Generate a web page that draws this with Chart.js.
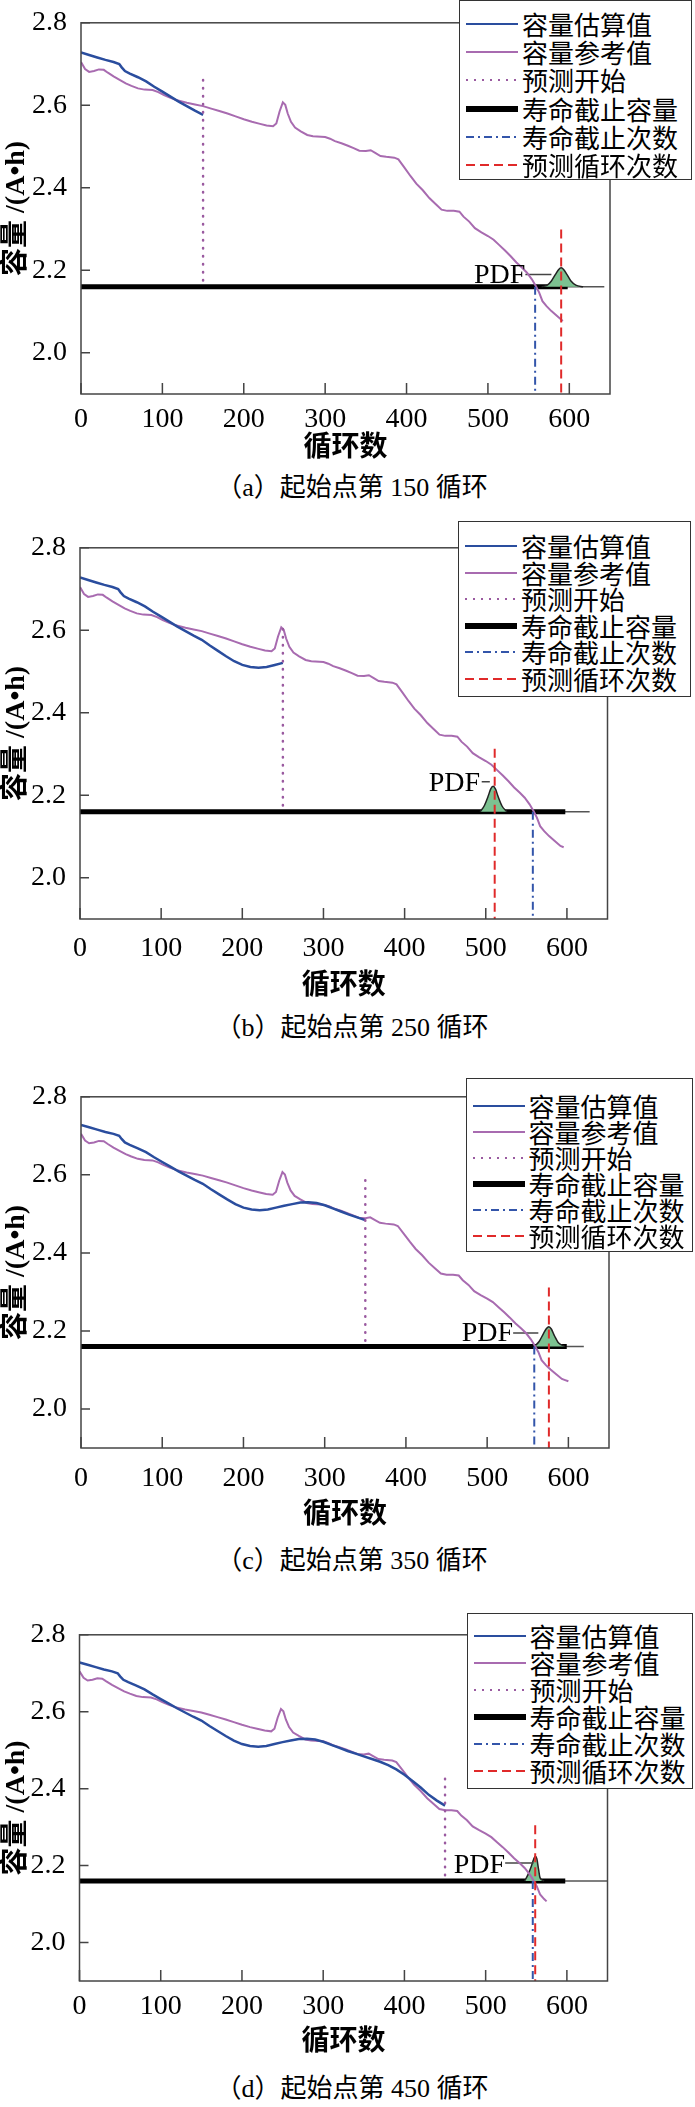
<!DOCTYPE html>
<html>
<head>
<meta charset="utf-8">
<script src="https://cdn.jsdelivr.net/npm/chart.js@4.4.1/dist/chart.umd.min.js"></script>
<style>
    html, body { margin: 0; padding: 0; background: #fff; }
    body { width: 695px; height: 2107px; position: relative; overflow: hidden; }
    canvas { position: absolute; left: 0; }
    .legend { position: absolute; background: #fff; border: 1.5px solid #333; box-sizing: border-box; }
    .row { position: absolute; left: 0; height: 28px; display: flex; align-items: center; white-space: nowrap;
           font-family: "Noto Sans CJK SC", sans-serif; font-size: 26px; line-height: 28px; color: #000; }
    .row svg { margin-left: 6px; margin-right: 4px; flex: none; }
    .cap { position: absolute; left: 0; width: 704px; text-align: center; color: #000;
           font-family: "Liberation Serif", "Noto Sans CJK SC", serif; font-size: 26px; line-height: 30px; }
</style>
</head>
<body>
<script>
// reference capacity (purple)
const refCycle = [0, 5, 10, 16, 22, 28, 33, 40, 48, 55, 62, 70, 78, 88, 95, 102, 110, 118, 130, 140,
    150, 160, 170, 180, 190, 200, 210, 220, 228, 236, 240, 244, 248, 251, 254, 258, 263, 270, 278, 285,
    295, 300, 306, 312, 320, 328, 335, 342, 350, 356, 362, 368, 375, 385, 390, 397, 405, 412, 420, 428,
    436, 443, 450, 458, 465, 470, 477, 484, 492, 500, 507, 514, 521, 528, 535, 542, 548, 554, 559, 563,
    567, 572, 575, 578, 585, 592, 596, 600];
const refCap = [2.705, 2.688, 2.681, 2.683, 2.687, 2.686, 2.679, 2.670, 2.661, 2.653, 2.647, 2.641, 2.638, 2.637, 2.632, 2.625, 2.618, 2.612, 2.606, 2.602,
    2.598, 2.592, 2.586, 2.580, 2.573, 2.566, 2.560, 2.555, 2.551, 2.549, 2.556, 2.585, 2.607, 2.601, 2.580, 2.560, 2.546, 2.537, 2.528, 2.525,
    2.524, 2.523, 2.519, 2.513, 2.508, 2.502, 2.496, 2.490, 2.489, 2.491, 2.484, 2.477, 2.475, 2.473, 2.469, 2.450, 2.428, 2.410, 2.394, 2.375,
    2.360, 2.347, 2.344, 2.344, 2.342, 2.330, 2.318, 2.302, 2.292, 2.283, 2.274, 2.261, 2.248, 2.234, 2.219, 2.206, 2.194, 2.178, 2.161, 2.146,
    2.125, 2.113, 2.107, 2.101, 2.089, 2.077, 2.074, 2.071];

// estimated capacity (blue)
const estCycle = [0, 10, 20, 30, 40, 47, 50, 54, 60, 70, 80, 90, 100, 110, 120, 130, 140, 150, 160, 170,
    180, 190, 200, 210, 220, 230, 240, 250, 260, 270, 280, 290, 300, 310, 320, 330, 340, 350, 360, 370,
    380, 390, 400, 410, 420, 430, 440, 450];
const estCap = [2.728, 2.722, 2.716, 2.710, 2.705, 2.700, 2.692, 2.683, 2.677, 2.668, 2.658, 2.645, 2.633, 2.621, 2.609, 2.598, 2.587, 2.577, 2.563, 2.550,
    2.537, 2.525, 2.516, 2.511, 2.509, 2.511, 2.516, 2.521, 2.525, 2.529, 2.530, 2.528, 2.522, 2.514, 2.506, 2.498, 2.491, 2.484, 2.477, 2.470,
    2.461, 2.450, 2.436, 2.420, 2.403, 2.384, 2.369, 2.356];

const xTicks = [0, 100, 200, 300, 400, 500, 600];
const yTicks = [2.0, 2.2, 2.4, 2.6, 2.8];

const eolCap = 2.16;      // 寿命截止容量
const eolCycle = 558;     // 寿命截止次数
const eolCapEnd = 598;
const startCycles = [150, 250, 350, 450];
const startLineTop = [2.676, 2.609, 2.588, 2.44];
const startLineBottom = 2.175;
const predCycles = [590, 511, 576, 561];
const predLineTop = [2.299, 2.313, 2.311, 2.305];
const refEnd = [592, 596, 600, 575];
const baseEnd = [643, 628, 619, 650];

const pdfX = [
    [566, 573, 578, 583, 587, 590, 593, 597, 602, 608, 617],
    [493, 498, 503, 506, 509, 512, 515, 520, 526],
    [558, 564, 569, 573, 576, 579, 583, 588, 596],
    [548, 552, 556, 559, 561, 563, 565, 567, 572]
];
const pdfY = [
    [2.160, 2.164, 2.174, 2.190, 2.202, 2.206, 2.202, 2.190, 2.174, 2.164, 2.160],
    [2.160, 2.174, 2.198, 2.215, 2.222, 2.215, 2.198, 2.174, 2.160],
    [2.160, 2.173, 2.192, 2.206, 2.211, 2.205, 2.187, 2.169, 2.160],
    [2.160, 2.176, 2.197, 2.216, 2.224, 2.218, 2.192, 2.168, 2.160]
];
const leaderX = [[546, 578], [495, 505], [532, 563], [524, 559]];
const leaderY = [2.19, 2.233, 2.195, 2.207];
const pdfLabelX = [546, 493, 532, 524];
const pdfLabelY = [2.187, 2.227, 2.194, 2.20];

const captions = ['（a）起始点第 150 循环', '（b）起始点第 250 循环', '（c）起始点第 350 循环', '（d）起始点第 450 循环'];
const legendLabels = ['容量估算值', '容量参考值', '预测开始', '寿命截止容量', '寿命截止次数', '预测循环次数'];

// colours / line styles
const cEst = '#2a4d9e', cRef = '#a86bb0', cStart = '#9a5aa0', cEolN = '#3355aa', cPred = '#e02a2a';
const legendStyles = [
    {c: cEst, w: 2, d: ''},
    {c: cRef, w: 2, d: ''},
    {c: cStart, w: 2, d: '2 6'},
    {c: '#000', w: 6, d: ''},
    {c: cEolN, w: 2, d: '8 4 2 4'},
    {c: cPred, w: 2, d: '9 5'}
];

// page layout of the four panels (plot box in page px)
const panels = [
    {L: 81, R: 610, T: 10, B: 394, tickOff: 18, titleOff: 55, capY: 488, lg: {x: 459, y: 0, w: 233, h: 180, r0: 23, dr: 28.2}},
    {L: 80, R: 607.5, T: 534.5, B: 918, tickOff: 22, titleOff: 68, capY: 1028, lg: {x: 458, y: 521, w: 233, h: 176, r0: 24, dr: 26.5}},
    {L: 81, R: 609, T: 1084, B: 1448, tickOff: 23, titleOff: 68, capY: 1561, lg: {x: 465.5, y: 1078, w: 227, h: 174, r0: 26.7, dr: 26}},
    {L: 79.5, R: 607.5, T: 1621.5, B: 1980.5, tickOff: 18, titleOff: 62, capY: 2089, lg: {x: 466.5, y: 1613, w: 226, h: 176, r0: 22, dr: 27}}
];

const pts = (xs, ys) => xs.map((x, i) => ({x: x, y: ys[i]}));

Chart.defaults.font.family = '"Liberation Serif", "Noto Sans CJK SC", serif';
Chart.defaults.color = '#000';

const tickSize = 28, titleSize = 28;

// box round the plot, inward ticks, PDF label
const frame = {
    id: 'frame',
    afterDraw(chart) {
        const {ctx, chartArea: a, scales: {x, y}} = chart;
        const i = chart.options.panelIndex;
        ctx.save();
        ctx.strokeStyle = '#444';
        ctx.lineWidth = 1.5;
        ctx.strokeRect(a.left, a.top, a.right - a.left, a.bottom - a.top);
        ctx.beginPath();
        x.ticks.forEach(t => {
            const px = x.getPixelForValue(t.value);
            ctx.moveTo(px, a.bottom);
            ctx.lineTo(px, a.bottom - 11);
        });
        y.ticks.forEach(t => {
            const py = y.getPixelForValue(t.value);
            ctx.moveTo(a.left, py);
            ctx.lineTo(a.left + 9, py);
        });
        ctx.stroke();
        ctx.fillStyle = '#000';
        ctx.font = '28px "Liberation Serif", serif';
        ctx.textAlign = 'right';
        ctx.textBaseline = 'middle';
        ctx.fillText('PDF', x.getPixelForValue(pdfLabelX[i]), y.getPixelForValue(pdfLabelY[i]));
        ctx.restore();
    }
};

function vline(xv, y0, y1, color, dash, width, order, cap) {
    return {
        data: [{x: xv, y: y0}, {x: xv, y: y1}], borderColor: color, borderWidth: width,
        borderDash: dash, borderCapStyle: cap || 'butt', order: order
    };
}

panels.forEach((p, i) => {
    const top = p.T - 10;
    const H = p.titleOff + 24;
    const cv = document.createElement('canvas');
    cv.width = 695;
    cv.height = Math.round(10 + (p.B - p.T) + H);
    cv.style.top = top + 'px';
    document.body.appendChild(cv);

    const refPts = pts(refCycle, refCap).filter(q => q.x <= refEnd[i]);
    const estPts = pts(estCycle, estCap).filter(q => q.x <= startCycles[i]);

    new Chart(cv, {
        type: 'scatter',
        data: {
            datasets: [
                {data: [{x: 0, y: eolCap}, {x: baseEnd[i], y: eolCap}], borderColor: '#555', borderWidth: 1.5, order: 10},
                {data: [{x: 0, y: eolCap}, {x: eolCapEnd, y: eolCap}], borderColor: '#000', borderWidth: 5, order: 9},
                {data: pts(pdfX[i], pdfY[i]), borderColor: '#222', borderWidth: 1.5, backgroundColor: '#7cc291',
                    fill: {value: eolCap}, cubicInterpolationMode: 'monotone', order: 8},
                {data: pts(leaderX[i], [leaderY[i], leaderY[i]]), borderColor: '#444', borderWidth: 1.5, order: 7},
                {data: refPts, borderColor: cRef, borderWidth: 2, order: 6},
                {data: estPts, borderColor: cEst, borderWidth: 2.5, order: 5},
                vline(startCycles[i], startLineBottom, startLineTop[i], cStart, [0.5, 7.5], 2.5, 3, 'round'),
                vline(eolCycle, eolCap, 1.9, cEolN, [8, 4, 2, 4], 2, 2),
                vline(predCycles[i], predLineTop[i], 1.9, cPred, [9, 5], 2, 1)
            ].map(d => Object.assign({showLine: true, pointRadius: 0, fill: false}, d))
        },
        options: {
            panelIndex: i,
            responsive: false,
            animation: false,
            events: [],
            layout: {padding: {top: 10, right: 695 - p.R, left: 0, bottom: 0}},
            plugins: {legend: {display: false}, tooltip: {enabled: false}},
            scales: {
                x: {
                    type: 'linear', min: 0, max: 650,
                    grid: {display: false}, border: {display: false},
                    afterBuildTicks: s => { s.ticks = xTicks.map(v => ({value: v})); },
                    afterFit: s => { s.height = H; },
                    ticks: {font: {size: tickSize}, padding: p.tickOff - tickSize * 0.6, maxRotation: 0, autoSkip: false},
                    title: {display: true, text: '循环数', font: {size: titleSize, weight: 'bold'},
                        padding: {top: 0, bottom: H - p.titleOff - titleSize * 0.6}}
                },
                y: {
                    type: 'linear', min: 1.9, max: 2.8,
                    grid: {display: false}, border: {display: false},
                    afterBuildTicks: s => { s.ticks = yTicks.map(v => ({value: v})); },
                    afterFit: s => { s.width = p.L; },
                    ticks: {font: {size: tickSize}, padding: 6, callback: v => v.toFixed(1)},
                    title: {display: true, text: '容量 /(A•h)', font: {size: titleSize, weight: 'bold'},
                        padding: {top: 0, bottom: 0}}
                }
            }
        },
        plugins: [frame]
    });

    // legend box
    const lg = document.createElement('div');
    lg.className = 'legend';
    lg.style.left = p.lg.x + 'px';
    lg.style.top = p.lg.y + 'px';
    lg.style.width = p.lg.w + 'px';
    lg.style.height = p.lg.h + 'px';
    legendLabels.forEach((txt, k) => {
        const st = legendStyles[k];
        const row = document.createElement('div');
        row.className = 'row';
        row.style.top = (p.lg.r0 + k * p.lg.dr - 14) + 'px';
        row.innerHTML = `<svg width="52" height="10"><line x1="0" y1="5" x2="52" y2="5" stroke="${st.c}"
            stroke-width="${st.w}" stroke-dasharray="${st.d}"/></svg><span>${txt}</span>`;
        lg.appendChild(row);
    });
    document.body.appendChild(lg);

    const cap = document.createElement('div');
    cap.className = 'cap';
    cap.style.top = (p.capY - 15) + 'px';
    cap.textContent = captions[i];
    document.body.appendChild(cap);
});
</script>
</body>
</html>
